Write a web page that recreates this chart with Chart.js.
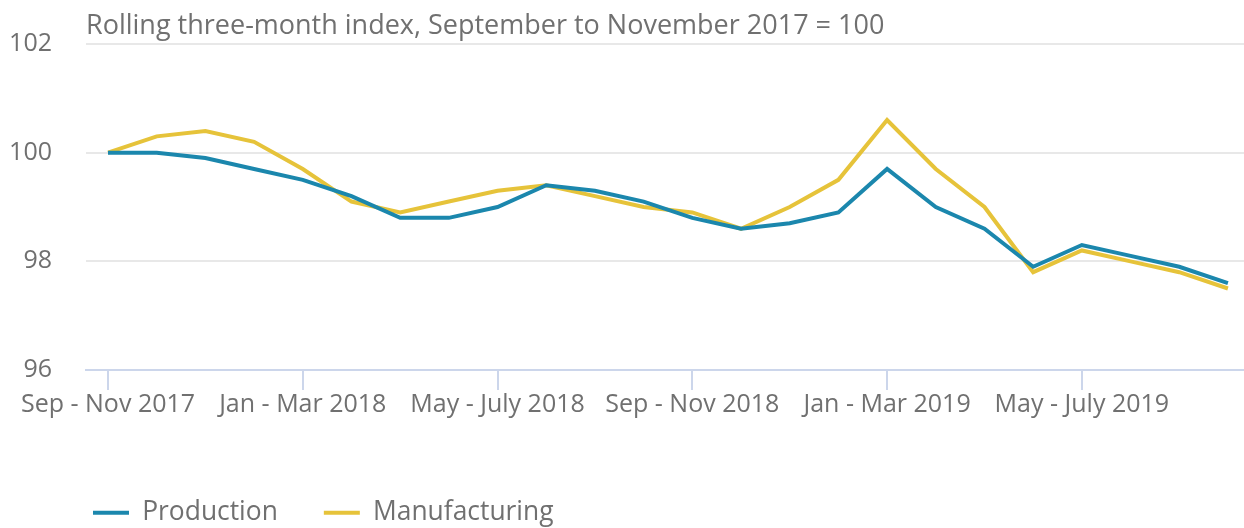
<!DOCTYPE html>
<html lang="en">
<head>
<meta charset="utf-8">
<title>Production and manufacturing index</title>
<script src="https://cdn.jsdelivr.net/npm/chart.js@4.4.1/dist/chart.umd.min.js"></script>
<style>
    html, body {
        margin: 0;
        padding: 0;
        background: #ffffff;
        overflow: hidden;
    }
    #chart-box {
        position: relative;
        width: 1244px;
        height: 536px;
    }
</style>
</head>
<body>
<div id="chart-box">
    <canvas id="myChart"></canvas>
</div>
<script>
const titleText = 'Rolling three-month index, September to November 2017 = 100';

const periods = [
    'Sep - Nov 2017', 'Oct - Dec 2017', 'Nov 2017 - Jan 2018', 'Dec 2017 - Feb 2018',
    'Jan - Mar 2018', 'Feb - Apr 2018', 'Mar - May 2018', 'Apr - June 2018',
    'May - July 2018', 'June - Aug 2018', 'July - Sep 2018', 'Aug - Oct 2018',
    'Sep - Nov 2018', 'Oct - Dec 2018', 'Nov 2018 - Jan 2019', 'Dec 2018 - Feb 2019',
    'Jan - Mar 2019', 'Feb - Apr 2019', 'Mar - May 2019', 'Apr - June 2019',
    'May - July 2019', 'June - Aug 2019', 'July - Sep 2019', 'Aug - Oct 2019'
];

const production = [
    100.0, 100.0, 99.9, 99.7, 99.5, 99.2, 98.8, 98.8,
    99.0, 99.4, 99.3, 99.1, 98.8, 98.6, 98.7, 98.9,
    99.7, 99.0, 98.6, 97.9, 98.3, 98.1, 97.9, 97.6
];

const manufacturing = [
    100.0, 100.3, 100.4, 100.2, 99.7, 99.1, 98.9, 99.1,
    99.3, 99.4, 99.2, 99.0, 98.9, 98.6, 99.0, 99.5,
    100.6, 99.7, 99.0, 97.8, 98.2, 98.0, 97.8, 97.5
];

// every fourth period gets a label on the x axis
const labelledTicks = [0, 4, 8, 12, 16, 20];
const yTicks = [96, 98, 100, 102];

const textColor = '#707070';
const fontFamily = '"Open Sans", "Noto Sans", sans-serif';


function toPoints(values) {
    return values.map((v, i) => ({ x: i, y: v }));
}


const titlePlugin = {
    id: 'topTitle',
    afterLayout(chart) {
        // legend starts under the plot rather than at the canvas edge
        chart.legend.left += 47;
    },
    afterDraw(chart) {
        const ctx = chart.ctx;
        ctx.save();
        ctx.font = '27px ' + fontFamily;
        ctx.fillStyle = textColor;
        ctx.textAlign = 'left';
        ctx.textBaseline = 'alphabetic';
        ctx.fillText(titleText, chart.chartArea.left, 34);
        ctx.restore();
    }
};


function buildChart() {
    const ctx = document.getElementById('myChart').getContext('2d');
    new Chart(ctx, {
        type: 'line',
        data: {
            datasets: [
                {
                    label: 'Production',
                    data: toPoints(production),
                    borderColor: '#1b87ad',
                    backgroundColor: '#1b87ad',
                    borderWidth: 4,
                    pointRadius: 0,
                    tension: 0
                },
                {
                    label: 'Manufacturing',
                    data: toPoints(manufacturing),
                    borderColor: '#e6c33a',
                    backgroundColor: '#e6c33a',
                    borderWidth: 4,
                    pointRadius: 0,
                    tension: 0
                }
            ]
        },
        options: {
            responsive: true,
            maintainAspectRatio: false,
            animation: false,
            layout: {
                padding: { left: 0, right: 0, top: 44, bottom: 0 }
            },
            plugins: {
                legend: {
                    position: 'bottom',
                    align: 'start',
                    labels: {
                        boxWidth: 36,
                        boxHeight: 4,
                        padding: 46,
                        color: textColor,
                        font: { family: fontFamily, size: 26.4 },
                        generateLabels(chart) {
                            const items = Chart.defaults.plugins.legend.labels.generateLabels(chart);
                            items.forEach(item => {
                                item.fillStyle = item.strokeStyle;
                                item.lineWidth = 0;
                            });
                            return items;
                        }
                    }
                },
                tooltip: { enabled: false }
            },
            scales: {
                x: {
                    type: 'linear',
                    min: -0.452,
                    max: 23.33,
                    afterBuildTicks(axis) {
                        axis.ticks = labelledTicks.map(v => ({ value: v }));
                    },
                    afterFit(axis) {
                        axis.paddingLeft = 0;
                        axis.paddingRight = 0;
                        axis.height = 83.6;
                    },
                    grid: {
                        drawOnChartArea: false,
                        drawTicks: true,
                        tickLength: 20,
                        color: '#ccd6eb',
                        lineWidth: 2
                    },
                    border: {
                        display: true,
                        color: '#ccd6eb',
                        width: 2
                    },
                    ticks: {
                        padding: 0,
                        maxRotation: 0,
                        autoSkip: false,
                        color: textColor,
                        font: { family: fontFamily, size: 25 },
                        callback: value => periods[value]
                    }
                },
                y: {
                    min: 96,
                    max: 102,
                    afterBuildTicks(axis) {
                        axis.ticks = yTicks.map(v => ({ value: v }));
                    },
                    afterFit(axis) {
                        axis.width = 86;
                        axis.paddingTop = 0;
                        axis.paddingBottom = 0;
                    },
                    grid: {
                        drawTicks: false,
                        lineWidth: 2,
                        color: c => (c.tick && c.tick.value === 96) ? 'rgba(0,0,0,0)' : '#e8e8e8'
                    },
                    border: { display: false },
                    ticks: {
                        padding: 34,
                        color: textColor,
                        font: { family: fontFamily, size: 25 }
                    }
                }
            }
        },
        plugins: [titlePlugin]
    });
}


document.fonts.load('25px "Open Sans"').then(buildChart, buildChart);
</script>
</body>
</html>
